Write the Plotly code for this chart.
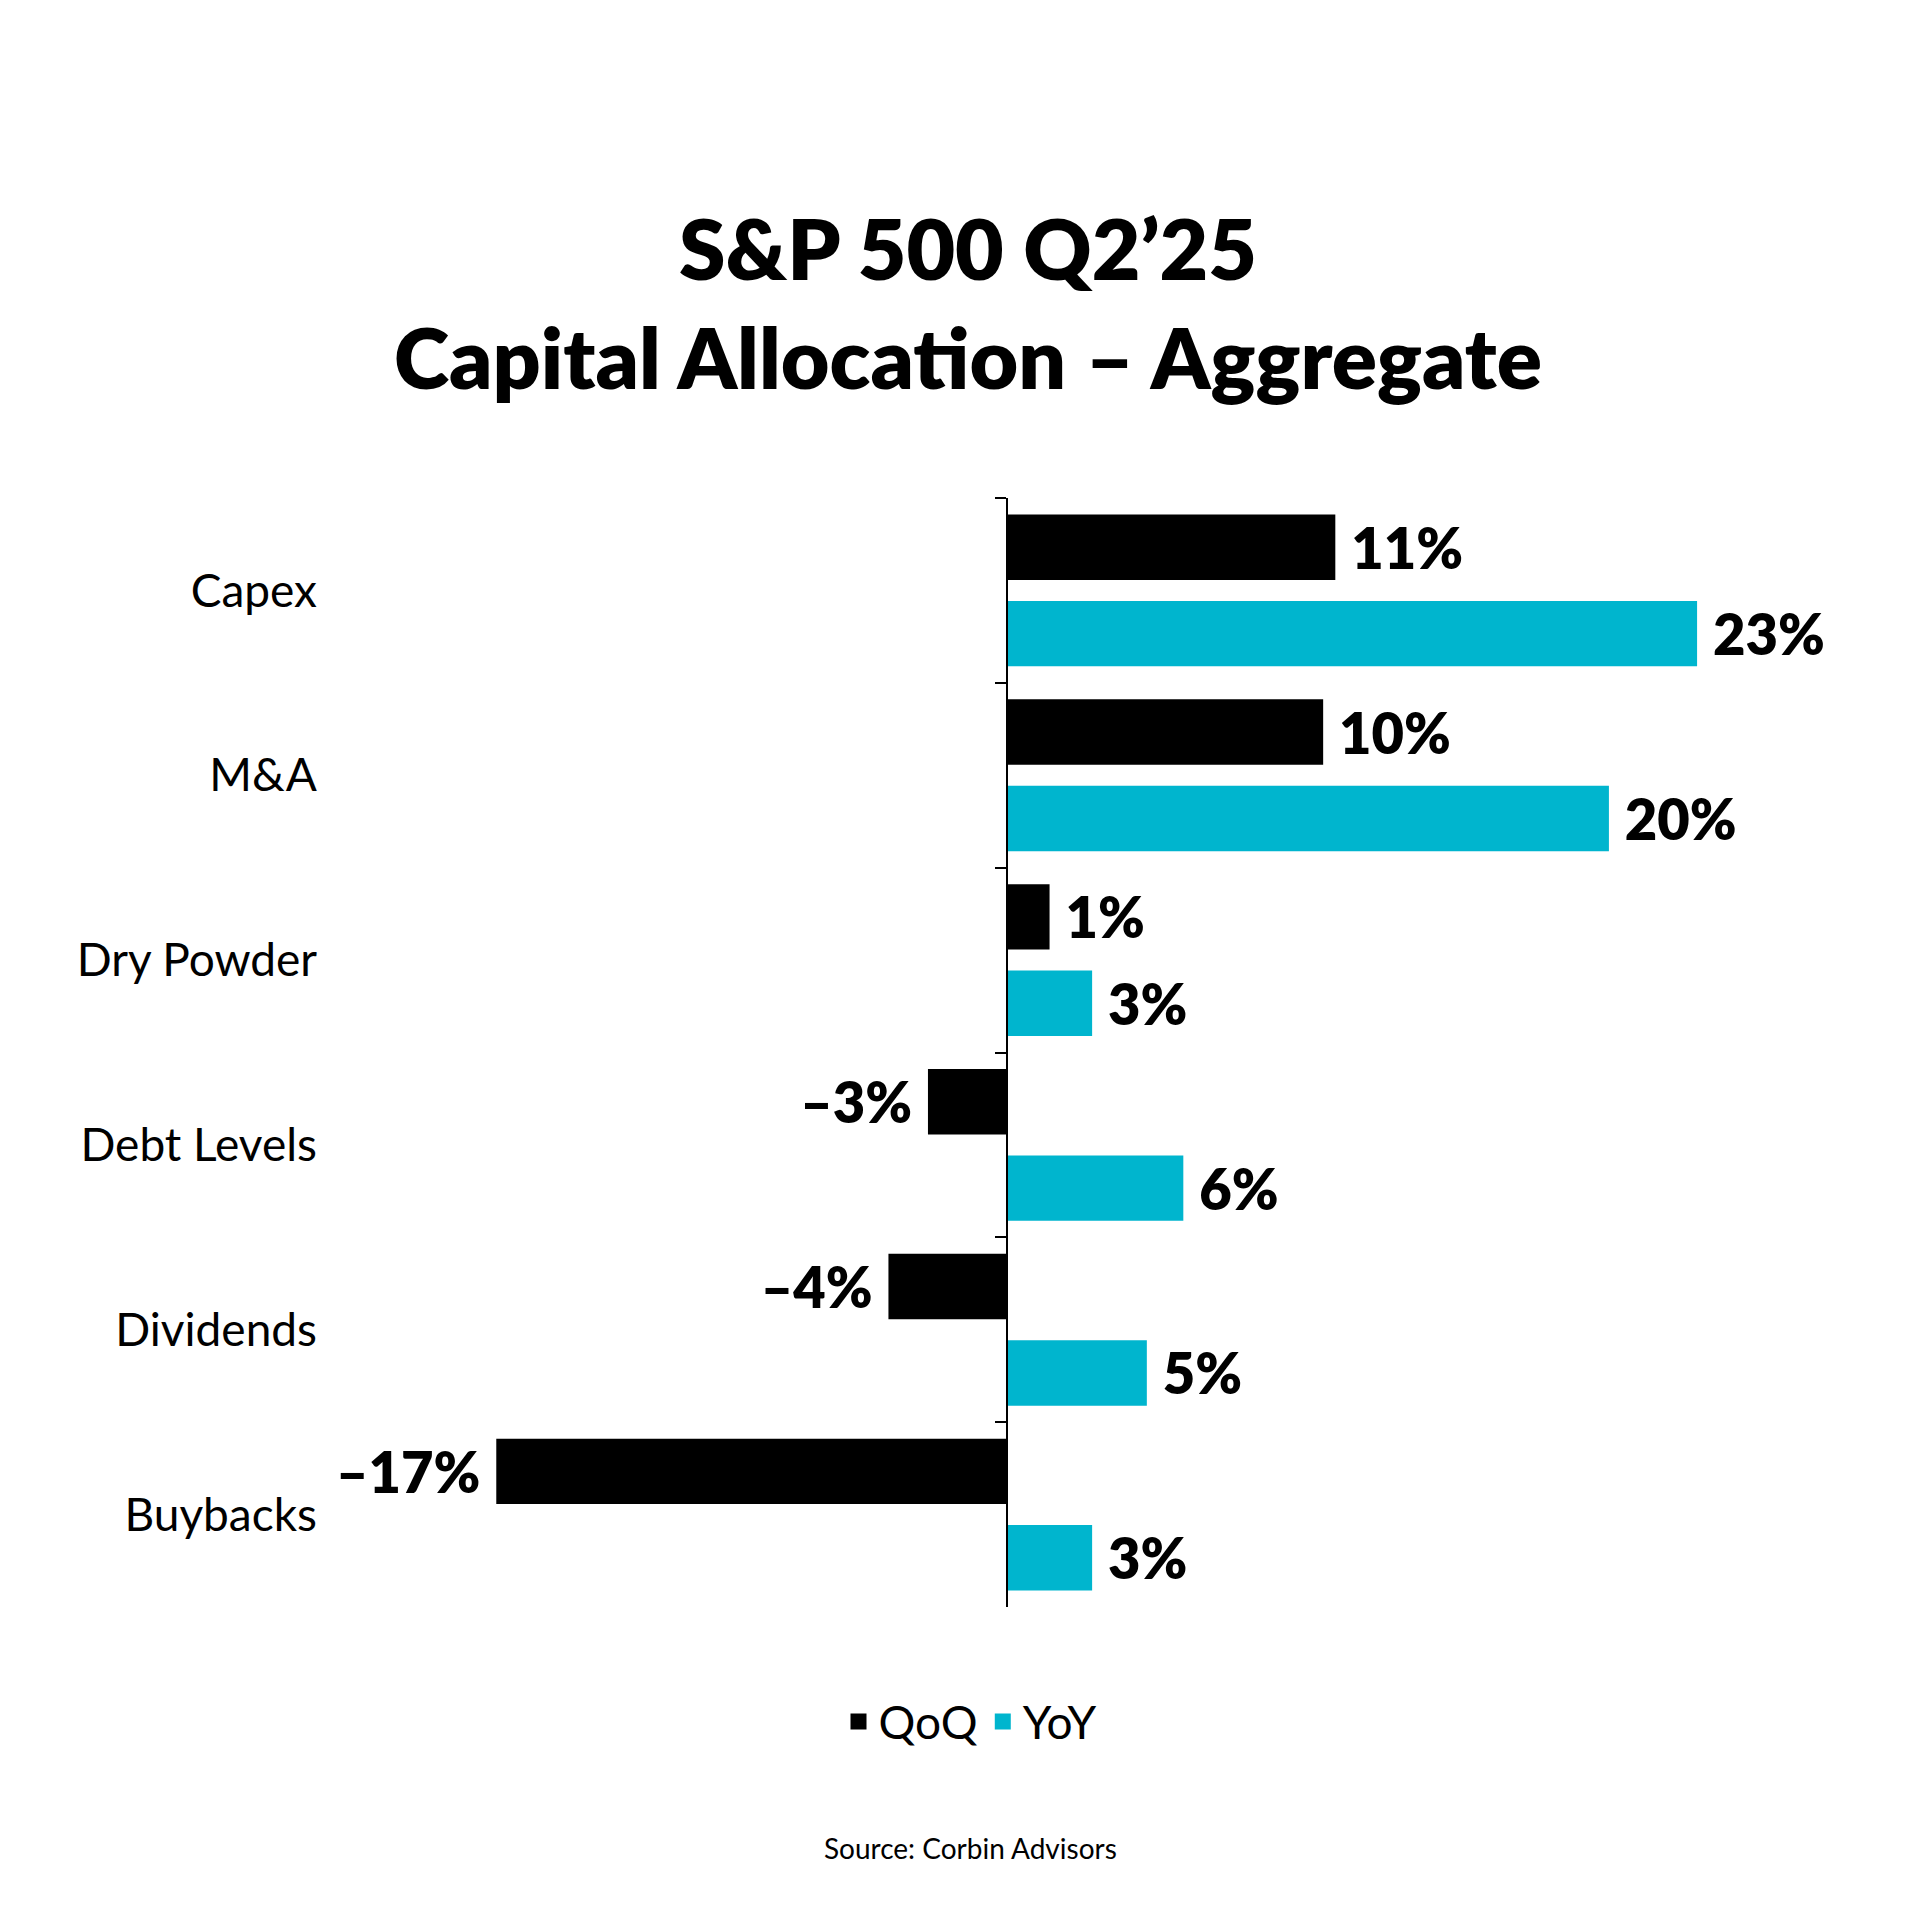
import plotly.graph_objects as go

# ---- data ----
categories = ["Capex", "M&A", "Dry Powder", "Debt Levels", "Dividends", "Buybacks"]
qoq_values = [10.8, 10.4, 1.4, -2.6, -3.9, -16.8]
yoy_values = [22.7, 19.8, 2.8, 5.8, 4.6, 2.8]
qoq_labels = ["11%", "10%", "1%", "–3%", "–4%", "–17%"]
yoy_labels = ["23%", "20%", "3%", "6%", "5%", "3%"]
series_names = ["QoQ", "YoY"]

title_text = "S&P 500 Q2’25<br>Capital Allocation – Aggregate"
source_text = "Source: Corbin Advisors"

# ---- style ----
FONT = "Lato"
BLACK = "#000000"
CYAN = "#00B5CE"
W, H = 1920, 1920
ML, MR, MT, MB = 320, 120, 490, 321
PX_PER_UNIT = 30.4
ZERO_PX = 999  # horizontal pixel of the zero line

plot_w = W - ML - MR
x_min = -(ZERO_PX - ML) / PX_PER_UNIT
x_max = (W - MR - ZERO_PX) / PX_PER_UNIT
zero_pos = (0 - x_min) / (x_max - x_min)


def pad_labels(labels, values):
    out = []
    for lab, v in zip(labels, values):
        out.append("\u00a0" + lab if v >= 0 else lab + "\u00a0")
    return out


fig = go.Figure()

label_font = dict(family=FONT, size=56, color=BLACK, weight=800)

fig.add_trace(go.Bar(
    y=categories, x=qoq_values, orientation="h", name=series_names[0],
    marker=dict(color=BLACK, line=dict(width=0)),
    text=pad_labels(qoq_labels, qoq_values), textposition="outside",
    textfont=label_font, constraintext="none", cliponaxis=False,
    showlegend=False, hoverinfo="skip",
))
fig.add_trace(go.Bar(
    y=categories, x=yoy_values, orientation="h", name=series_names[1],
    marker=dict(color=CYAN, line=dict(width=0)),
    text=pad_labels(yoy_labels, yoy_values), textposition="outside",
    textfont=label_font, constraintext="none", cliponaxis=False,
    showlegend=False, hoverinfo="skip",
))

# legend entries (square markers)
for name, col in zip(series_names, [BLACK, CYAN]):
    fig.add_trace(go.Scatter(
        x=[None], y=[None], mode="markers", name=name,
        marker=dict(symbol="square", size=19, color=col),
        showlegend=True, hoverinfo="skip",
    ))

# invisible trace that carries the zero-line axis with boundary ticks
fig.add_trace(go.Scatter(
    x=[0] * len(categories), y=categories, yaxis="y2", mode="markers",
    marker=dict(opacity=0, size=1), showlegend=False, hoverinfo="skip",
))

fig.update_layout(
    width=W, height=H,
    margin=dict(l=ML, r=MR, t=MT, b=MB, pad=0),
    paper_bgcolor="white", plot_bgcolor="white",
    font=dict(family=FONT, color=BLACK),
    barmode="group", bargap=0.065, bargroupgap=0.243,
    title=dict(
        text=title_text, x=0.5, xanchor="center",
        y=1 - 272 / H, yanchor="top", yref="container", xref="container",
        font=dict(family=FONT, size=84, color=BLACK, weight=800),
    ),
    xaxis=dict(range=[x_min, x_max], showgrid=False, zeroline=False,
               showticklabels=False, showline=False, ticks=""),
    yaxis=dict(type="category", categoryorder="array", categoryarray=categories,
               autorange="reversed", showgrid=False, zeroline=False, showline=False,
               ticks="", tickfont=dict(family=FONT, size=46, color=BLACK),
               ticklabelstandoff=10),
    yaxis2=dict(type="category", categoryorder="array", categoryarray=categories,
                overlaying="y", matches="y", anchor="free", position=zero_pos,
                side="left", showgrid=False, zeroline=False,
                showline=True, linecolor=BLACK, linewidth=2,
                ticks="outside", ticklen=11, tickwidth=2, tickcolor=BLACK,
                tickson="boundaries", showticklabels=False),
    legend=dict(
        orientation="h", xref="container", yref="container",
        x=962 / W, xanchor="center", y=1 - 1677 / H, yanchor="top",
        font=dict(family=FONT, size=46, color=BLACK),
        itemsizing="trace", bgcolor="rgba(0,0,0,0)",
    ),
    annotations=[dict(
        text=source_text, xref="paper", yref="paper",
        x=(962 - ML) / plot_w, y=(H - MB - 1840) / (H - MT - MB),
        xanchor="center", yanchor="middle", showarrow=False,
        font=dict(family=FONT, size=28, color=BLACK),
    )],
)

fig.write_html("out.html")
